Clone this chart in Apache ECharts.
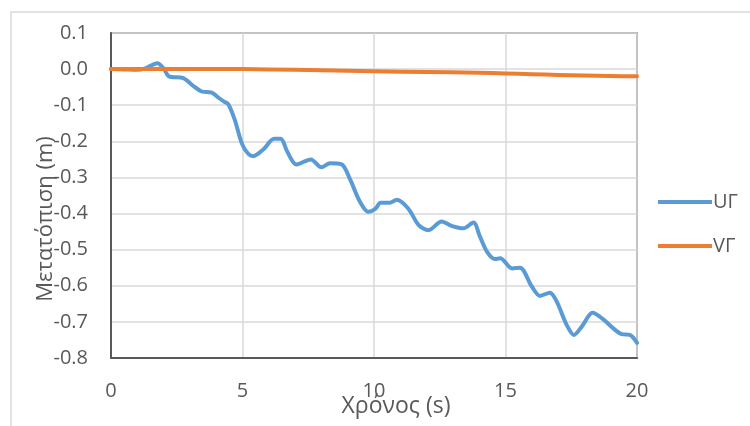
<!DOCTYPE html>
<html>
<head>
<meta charset="utf-8">
<script src="https://cdn.jsdelivr.net/npm/echarts@6/dist/echarts.min.js"></script>
<style>
  html, body { margin: 0; padding: 0; background: #ffffff; }
  #chart { width: 750px; height: 426px; }
</style>
</head>
<body>
<div id="chart"></div>
<script>
// Time (s) of each sample for the UΓ displacement trace
const timeU = [0, 0.5, 1.0, 1.3, 1.76, 2.0, 2.2, 2.75, 3.1, 3.45, 3.83, 4.1, 4.3, 4.46, 4.71, 4.97,
  5.2, 5.41, 5.8, 6.2, 6.45, 6.7, 7.05, 7.6, 8.0, 8.33, 8.77, 9.1, 9.45, 9.78, 10.05, 10.25,
  10.6, 10.86, 11.3, 11.7, 12.07, 12.57, 12.95, 13.4, 13.78, 14.03, 14.3, 14.6, 14.8, 15.25,
  15.55, 16.0, 16.31, 16.69, 16.95, 17.33, 17.6, 17.9, 18.31, 18.72, 19.1, 19.42, 19.73, 20.0];
// UΓ displacement (m)
const dispU = [0, -0.001, -0.002, 0.002, 0.016, 0.002, -0.02, -0.025, -0.045, -0.062, -0.065, -0.08,
  -0.09, -0.097, -0.141, -0.205, -0.233, -0.241, -0.222, -0.193, -0.193, -0.228, -0.264, -0.25,
  -0.272, -0.261, -0.264, -0.307, -0.365, -0.395, -0.387, -0.37, -0.37, -0.362, -0.386, -0.432,
  -0.446, -0.422, -0.434, -0.441, -0.425, -0.464, -0.506, -0.526, -0.524, -0.552, -0.55, -0.602,
  -0.628, -0.619, -0.644, -0.709, -0.736, -0.713, -0.675, -0.693, -0.718, -0.734, -0.736, -0.758];

// Time (s) and displacement (m) for the VΓ trace
const timeV = [0, 2, 4, 5, 6, 8, 10, 12, 14, 15, 16, 17, 18, 19, 20];
const dispV = [0, 0, 0.0005, 0, -0.001, -0.003, -0.006, -0.008, -0.010, -0.012, -0.014, -0.016, -0.018, -0.019, -0.020];

const seriesNames = ['UΓ', 'VΓ'];
const xTitle = 'Χρόνος (s)';
const yTitle = 'Μετατόπιση (m)';

const pairs = (xs, ys) => xs.map((x, i) => [x, ys[i]]);

const FONT = '"Open Sans", sans-serif';
const TEXT = '#595959';

const chart = echarts.init(document.getElementById('chart'), null, { renderer: 'canvas' });
chart.setOption({
  animation: false,
  backgroundColor: '#ffffff',
  graphic: [{
    type: 'rect',
    silent: true,
    shape: { x: 11, y: 12, width: 800, height: 500 },
    style: { fill: 'none', stroke: '#d9d9d9', lineWidth: 1.5 },
    z: -10
  }],
  grid: {
    left: 111, top: 33, right: 113, bottom: 68,
    outerBoundsMode: 'none', containLabel: false,
    show: true, borderColor: '#595959', borderWidth: 1.5, backgroundColor: 'transparent'
  },
  legend: {
    orient: 'vertical',
    left: 653, top: 187,
    itemWidth: 54, itemHeight: 14, itemGap: 24,
    icon: 'path://M0,5L54,5L54,9L0,9Z',
    textStyle: { color: TEXT, fontFamily: FONT, fontSize: 20, padding: [0, 0, 0, -4] },
    data: seriesNames
  },
  xAxis: {
    type: 'value', min: 0, max: 20, interval: 5,
    name: xTitle, nameLocation: 'middle', nameGap: 37, nameMoveOverlap: false,
    nameTextStyle: { color: TEXT, fontFamily: FONT, fontSize: 23, padding: [0, 0, 0, 44] },
    axisLine: { show: true, onZero: false, lineStyle: { color: '#595959', width: 2 } },
    axisTick: { show: false },
    axisLabel: { color: TEXT, fontFamily: FONT, fontSize: 20, margin: 23 },
    splitLine: { show: true, lineStyle: { color: '#d9d9d9', width: 1.5 } }
  },
  yAxis: {
    type: 'value', min: -0.8, max: 0.1, interval: 0.1,
    name: yTitle, nameLocation: 'middle', nameGap: 54, nameRotate: 90, nameMoveOverlap: false,
    nameTextStyle: { color: TEXT, fontFamily: FONT, fontSize: 22, padding: [0, 47, 0, 0] },
    axisLine: { show: true, onZero: false, lineStyle: { color: '#595959', width: 2 } },
    axisTick: { show: false },
    axisLabel: { color: TEXT, fontFamily: FONT, fontSize: 20, margin: 23,
      formatter: v => v.toFixed(1) },
    splitLine: { show: true, lineStyle: { color: '#d9d9d9', width: 1.5 } }
  },
  series: [
    {
      name: seriesNames[0], type: 'line', data: pairs(timeU, dispU),
      smooth: 0.3, showSymbol: false, symbol: 'none',
      lineStyle: { color: '#5b9bd5', width: 4, cap: 'round', join: 'round' },
      itemStyle: { color: '#5b9bd5' }, z: 2
    },
    {
      name: seriesNames[1], type: 'line', data: pairs(timeV, dispV),
      smooth: 0.3, showSymbol: false, symbol: 'none',
      lineStyle: { color: '#ed7d31', width: 4, cap: 'round', join: 'round' },
      itemStyle: { color: '#ed7d31' }, z: 3
    }
  ]
});
</script>
</body>
</html>
